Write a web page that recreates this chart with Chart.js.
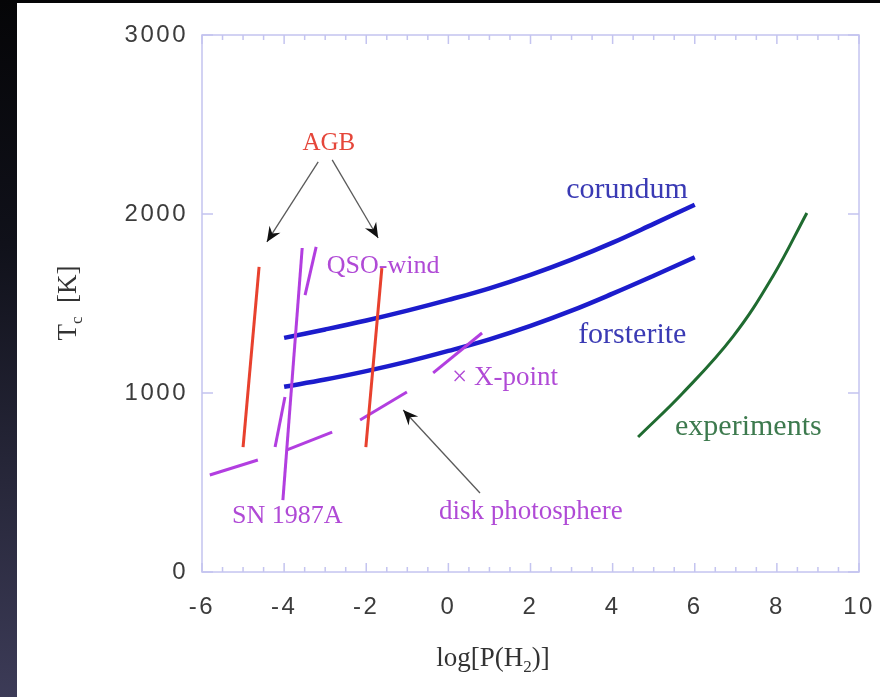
<!DOCTYPE html>
<html>
<head>
<meta charset="utf-8">
<script src="https://cdn.jsdelivr.net/npm/chart.js@4.4.0/dist/chart.umd.min.js"></script>
<style>
  html, body { margin: 0; padding: 0; background: #000; }
  canvas { display: block; }
</style>
</head>
<body>
<canvas id="tcChart" width="880" height="697"></canvas>
<script>
// Condensation temperature against log hydrogen pressure
const xTicks = [-6, -4, -2, 0, 2, 4, 6, 8, 10];
const yTicks = [0, 1000, 2000, 3000];

const condLogP = [-4, -3, -2, -1, 0, 1, 2, 3, 4, 5, 6];
const corundumT = [1308, 1355, 1405, 1460, 1520, 1585, 1660, 1745, 1840, 1945, 2052];
const forsteriteT = [1035, 1075, 1122, 1175, 1235, 1300, 1375, 1460, 1555, 1655, 1758];

const experimentsLogP = [4.62, 5.71, 6.93, 7.91, 8.73];
const experimentsT = [754, 1000, 1315, 1655, 2006];

// short tracks: [logP1, T1, logP2, T2]
const agbTracks = [
  [-5.0, 698, -4.61, 1704],
  [-2.01, 698, -1.62, 1698],
];
const envTracks = [
  [-4.03, 402, -3.56, 1810],   // SN 1987A
  [-3.49, 1547, -3.22, 1816],  // QSO-wind
  [-4.22, 698, -3.98, 978],
  [-5.81, 542, -4.64, 626],
  [-3.93, 682, -2.83, 782],
  [-2.15, 849, -1.01, 1006],   // disk photosphere
  [-0.37, 1112, 0.82, 1335],   // X-point
];
// arrows: tail -> head
const arrowTracks = [
  [-3.17, 2291, -4.42, 1844],
  [-2.83, 2302, -1.71, 1866],
  [0.77, 441, -1.10, 905],
];

const notes = [
  { text: 'AGB', x: -2.91, y: 2358, color: '#e5463a', size: 25, align: 'center' },
  { text: 'QSO-wind', x: -2.96, y: 1670, color: '#b04ad6', size: 26, align: 'left' },
  { text: 'corundum', x: 2.87, y: 2089, color: '#3a3ab4', size: 30, align: 'left' },
  { text: 'forsterite', x: 3.16, y: 1279, color: '#3a3ab4', size: 30, align: 'left' },
  { text: '× X-point', x: 0.09, y: 1045, color: '#b04ad6', size: 27, align: 'left' },
  { text: 'experiments', x: 5.52, y: 765, color: '#3d7a4e', size: 30, align: 'left' },
  { text: 'SN 1987A', x: -5.27, y: 274, color: '#b04ad6', size: 26, align: 'left' },
  { text: 'disk photosphere', x: -0.23, y: 296, color: '#b04ad6', size: 27, align: 'left' },
];

const BLUE = '#1c1ccc';
const RED = '#e8412e';
const MAGENTA = '#b23ee0';
const GREEN = '#1f6b30';
const FRAME = '#c4c4f0';

function pts(xs, ys) {
  return xs.map((x, i) => ({ x: x, y: ys[i] }));
}
function seg(s) {
  return [{ x: s[0], y: s[1] }, { x: s[2], y: s[3] }];
}

const datasets = [];
agbTracks.forEach(s => datasets.push({ data: seg(s), borderColor: RED, borderWidth: 3 }));
envTracks.forEach(s => datasets.push({ data: seg(s), borderColor: MAGENTA, borderWidth: 3 }));
datasets.push({ label: 'corundum', data: pts(condLogP, corundumT), borderColor: BLUE, borderWidth: 4.5, tension: 0.4 });
datasets.push({ label: 'forsterite', data: pts(condLogP, forsteriteT), borderColor: BLUE, borderWidth: 4.5, tension: 0.4 });
datasets.push({ label: 'experiments', data: pts(experimentsLogP, experimentsT), borderColor: GREEN, borderWidth: 3, tension: 0.4 });
arrowTracks.forEach(s => datasets.push({ data: seg(s), borderColor: '#5a5a5a', borderWidth: 1.3, arrow: true }));

datasets.forEach(d => {
  d.showLine = true;
  d.pointRadius = 0;
  d.pointHoverRadius = 0;
  d.fill = false;
  d.borderCapStyle = 'butt';
});

// slide background: dark edge, white panel
const panelBg = {
  id: 'panelBg',
  beforeDraw(chart) {
    const ctx = chart.ctx;
    ctx.save();
    const g = ctx.createLinearGradient(0, 0, 0, chart.height);
    g.addColorStop(0, '#050507');
    g.addColorStop(0.35, '#10111a');
    g.addColorStop(1, '#3c3b57');
    ctx.fillStyle = g;
    ctx.fillRect(0, 0, chart.width, chart.height);
    ctx.fillStyle = '#ffffff';
    ctx.fillRect(17, 3, chart.width - 17, chart.height - 3);
    ctx.restore();
    ctx.letterSpacing = '2.5px';
  }
};

// frame with inward ticks
const frameTicks = {
  id: 'frameTicks',
  beforeDatasetsDraw(chart) {
    const ctx = chart.ctx;
    const a = chart.chartArea;
    const xs = chart.scales.x, ys = chart.scales.y;
    ctx.save();
    ctx.strokeStyle = FRAME;
    ctx.lineWidth = 1.5;
    ctx.strokeRect(a.left, a.top, a.right - a.left, a.bottom - a.top);
    ctx.beginPath();
    for (let v = xs.min; v <= xs.max + 1e-9; v += 0.5) {
      const px = xs.getPixelForValue(v);
      const len = Math.abs(v % 2) < 1e-9 ? 9 : 5;
      ctx.moveTo(px, a.bottom); ctx.lineTo(px, a.bottom - len);
      ctx.moveTo(px, a.top); ctx.lineTo(px, a.top + len);
    }
    yTicks.forEach(v => {
      const py = ys.getPixelForValue(v);
      ctx.moveTo(a.left, py); ctx.lineTo(a.left + 11, py);
      ctx.moveTo(a.right, py); ctx.lineTo(a.right - 11, py);
    });
    ctx.stroke();
    ctx.restore();
  }
};

// arrow heads, labels and axis titles
const overlay = {
  id: 'overlay',
  afterDatasetsDraw(chart) {
    const ctx = chart.ctx;
    const xs = chart.scales.x, ys = chart.scales.y;
    ctx.save();
    ctx.letterSpacing = '0px';

    chart.data.datasets.forEach((d, i) => {
      if (!d.arrow) return;
      const meta = chart.getDatasetMeta(i);
      const p0 = meta.data[0], p1 = meta.data[1];
      const ang = Math.atan2(p1.y - p0.y, p1.x - p0.x);
      const len = 15, half = 6.5, notch = 10;
      ctx.save();
      ctx.translate(p1.x, p1.y);
      ctx.rotate(ang);
      ctx.fillStyle = '#111';
      ctx.beginPath();
      ctx.moveTo(0, 0);
      ctx.lineTo(-len, -half);
      ctx.lineTo(-notch, 0);
      ctx.lineTo(-len, half);
      ctx.closePath();
      ctx.fill();
      ctx.restore();
    });

    ctx.textBaseline = 'alphabetic';
    notes.forEach(n => {
      ctx.font = n.size + 'px "Liberation Serif", "Times New Roman", serif';
      ctx.fillStyle = n.color;
      ctx.textAlign = n.align;
      ctx.fillText(n.text, xs.getPixelForValue(n.x), ys.getPixelForValue(n.y));
    });

    // x title: log[P(H2)]
    const big = '27px "Liberation Serif", serif';
    const small = '17px "Liberation Serif", serif';
    ctx.fillStyle = '#333';
    ctx.textAlign = 'left';
    const parts = [['log[P(H', big, 0], ['2', small, 6], [')]', big, 0]];
    let w = 0;
    parts.forEach(p => { ctx.font = p[1]; w += ctx.measureText(p[0]).width; });
    let cx = 493 - w / 2;
    parts.forEach(p => {
      ctx.font = p[1];
      ctx.fillText(p[0], cx, 666 + p[2]);
      cx += ctx.measureText(p[0]).width;
    });

    // y title: Tc [K]
    ctx.save();
    ctx.translate(76, 303);
    ctx.rotate(-Math.PI / 2);
    const yparts = [['T', big, 0], ['c', small, 6], ['  [K]', big, 0]];
    w = 0;
    yparts.forEach(p => { ctx.font = p[1]; w += ctx.measureText(p[0]).width; });
    cx = -w / 2;
    yparts.forEach(p => {
      ctx.font = p[1];
      ctx.fillText(p[0], cx, p[2]);
      cx += ctx.measureText(p[0]).width;
    });
    ctx.restore();

    ctx.restore();
  }
};

const tickFont = { family: '"Liberation Sans", Arial, sans-serif', size: 24 };
const plainLabel = v => String(v);

new Chart(document.getElementById('tcChart').getContext('2d'), {
  type: 'scatter',
  data: { datasets: datasets },
  options: {
    responsive: false,
    animation: false,
    devicePixelRatio: 1,
    layout: { padding: { top: 35, right: 21, bottom: 0, left: 0 } },
    plugins: { legend: { display: false }, tooltip: { enabled: false } },
    events: [],
    scales: {
      x: {
        type: 'linear',
        min: xTicks[0],
        max: xTicks[xTicks.length - 1],
        afterBuildTicks: s => { s.ticks = xTicks.map(v => ({ value: v })); },
        afterFit: s => { s.height = 125; s.paddingLeft = 0; s.paddingRight = 0; },
        grid: { display: false, drawTicks: false },
        border: { display: false },
        ticks: { color: '#3c3c3c', font: tickFont, padding: 21, maxRotation: 0, callback: plainLabel },
      },
      y: {
        type: 'linear',
        min: yTicks[0],
        max: yTicks[yTicks.length - 1],
        afterBuildTicks: s => { s.ticks = yTicks.map(v => ({ value: v })); },
        afterFit: s => { s.width = 202; s.paddingTop = 0; s.paddingBottom = 0; },
        grid: { display: false, drawTicks: false },
        border: { display: false },
        ticks: { color: '#3c3c3c', font: tickFont, padding: 14, callback: plainLabel },
      },
    },
  },
  plugins: [panelBg, frameTicks, overlay],
});
</script>
</body>
</html>
